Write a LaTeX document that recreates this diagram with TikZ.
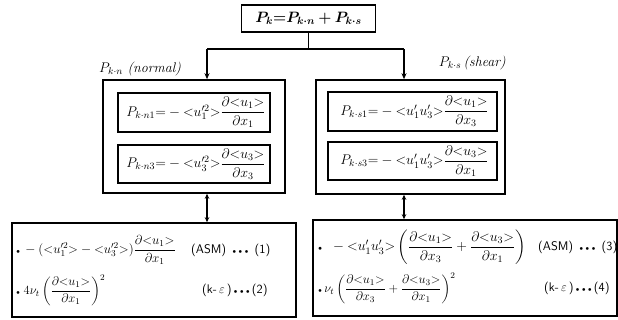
\RequirePackage{fix-cm}
\documentclass[tikz,border=0pt]{standalone}
\usepackage{amsmath,bm}
\usetikzlibrary{arrows.meta}
\newcommand{\mydot}{{\scriptscriptstyle\bullet}}
\newcommand{\mydots}{$\mydot\,\mydot\,\mydot$}
\begin{document}
\begin{tikzpicture}[x=1pt,y=-1pt,
  box/.style={draw,line width=1.6pt,inner sep=0pt},
  inbox/.style={draw,line width=1.2pt,inner sep=0pt},
  conn/.style={line width=1.3pt},
  tip/.style={-{Stealth[length=6pt,width=5pt]}},
  dtip/.style={{Stealth[length=5pt,width=4.5pt]}-{Stealth[length=5pt,width=4.5pt]}},
  eq/.style={inner sep=0pt,font=\fontsize{14}{16}\selectfont},
  beq/.style={inner sep=0pt,font=\fontsize{13}{15}\selectfont},
  lab/.style={inner sep=0pt,font=\fontsize{12.5}{14}\selectfont\sffamily}]
\useasboundingbox (0,0) rectangle (618,320);
% boxes
\node[box,minimum width=134pt,minimum height=27pt,font=\fontsize{15}{17}\selectfont] (top) at (308.5,18.5)
  {$\bm{P_k{=}P_{k\cdot n}+P_{k\cdot s}}$};
\node[box,minimum width=182pt,minimum height=113pt] (midL) at (194,136.5) {};
\node[box,minimum width=189pt,minimum height=114pt] (midR) at (410.5,137) {};
\node[inbox,minimum width=152pt,minimum height=39pt] (inL1) at (194,112.5) {};
\node[inbox,minimum width=152pt,minimum height=38pt] (inL2) at (194,164) {};
\node[inbox,minimum width=169pt,minimum height=39pt] (inR1) at (412.5,111.5) {};
\node[inbox,minimum width=169pt,minimum height=38pt] (inR2) at (412.5,161) {};
\node[box,minimum width=284pt,minimum height=94pt] (botL) at (154,270) {};
\node[box,minimum width=304pt,minimum height=96pt] (botR) at (465,268) {};
% inner formulas
\node[eq] (eL1) at ([xshift=2pt]inL1.center) {$P_{k\cdot n1}{=}-{<}u'^{2}_{1}{>}\dfrac{\partial{<}u_1{>}}{\partial x_1}$};
\node[eq] (eL2) at ([xshift=2pt]inL2.center) {$P_{k\cdot n3}{=}-{<}u'^{2}_{3}{>}\dfrac{\partial{<}u_3{>}}{\partial x_3}$};
\node[eq] (eR1) at ([xshift=2pt]inR1.center) {$P_{k\cdot s1}{=}-{<}u'_1u'_3{>}\dfrac{\partial{<}u_1{>}}{\partial x_3}$};
\node[eq] (eR2) at ([xshift=2pt]inR2.center) {$P_{k\cdot s3}{=}-{<}u'_1u'_3{>}\dfrac{\partial{<}u_3{>}}{\partial x_1}$};
% labels
\node[eq,anchor=west] (lN) at (99,69) {$P_{k\cdot n}$ \textit{(normal)}};
\node[eq,anchor=east] (lS) at (506,63) {$P_{k\cdot s}$\,\textit{(shear)}};
% bottom texts
\node[beq,anchor=west] (f1) at (16,250) {$\mydot\,-({<}u_1'^2{>}-{<}u_3'^2{>})\dfrac{\partial{<}u_1{>}}{\partial x_1}$};
\node[lab,anchor=west] (t1) at (191,250) {(ASM)\, \mydots\, (1)};
\node[beq,anchor=west,font=\fontsize{12.5}{14}\selectfont] (f2) at (16,290) {$\mydot\;4\nu_t\left(\dfrac{\partial{<}u_1{>}}{\partial x_1}\right)^{2}$};
\node[lab,anchor=west] (t2) at (202,290) {(k-\,$\varepsilon$\,)\,\mydots\,(2)};
\node[beq,anchor=west,font=\fontsize{14}{16}\selectfont] (f3) at (318,247) {$\mydot\;\;-{<}u_1'u_3'{>}\left(\dfrac{\partial{<}u_1{>}}{\partial x_3}+\dfrac{\partial{<}u_3{>}}{\partial x_1}\right)$};
\node[lab,anchor=west] (t3) at (538,247) {(ASM)\, \mydots\, (3)};
\node[beq,anchor=west,font=\fontsize{12.5}{14}\selectfont] (f4) at (318,288) {$\mydot\,\nu_t\left(\dfrac{\partial{<}u_1{>}}{\partial x_3}+\dfrac{\partial{<}u_3{>}}{\partial x_1}\right)^{2}$};
\node[lab,anchor=west] (t4) at (544,288) {(k-\,$\varepsilon$\,)\,\mydots\,(4)};
% connectors
\coordinate (jL) at (207,49);
\coordinate (jR) at (404,49);
\draw[conn] (top.south) -- (top.south |- jL);
\draw[conn] (jL) -- (jR);
\draw[conn,tip] (jL) -- (jL |- midL.north);
\draw[conn,tip] (jR) -- (jR |- midR.north);
\draw[conn,dtip] (jL |- midL.south) -- (jL |- botL.north);
\draw[conn,dtip] (jR |- midR.south) -- (jR |- botR.north);
\end{tikzpicture}
\end{document}
